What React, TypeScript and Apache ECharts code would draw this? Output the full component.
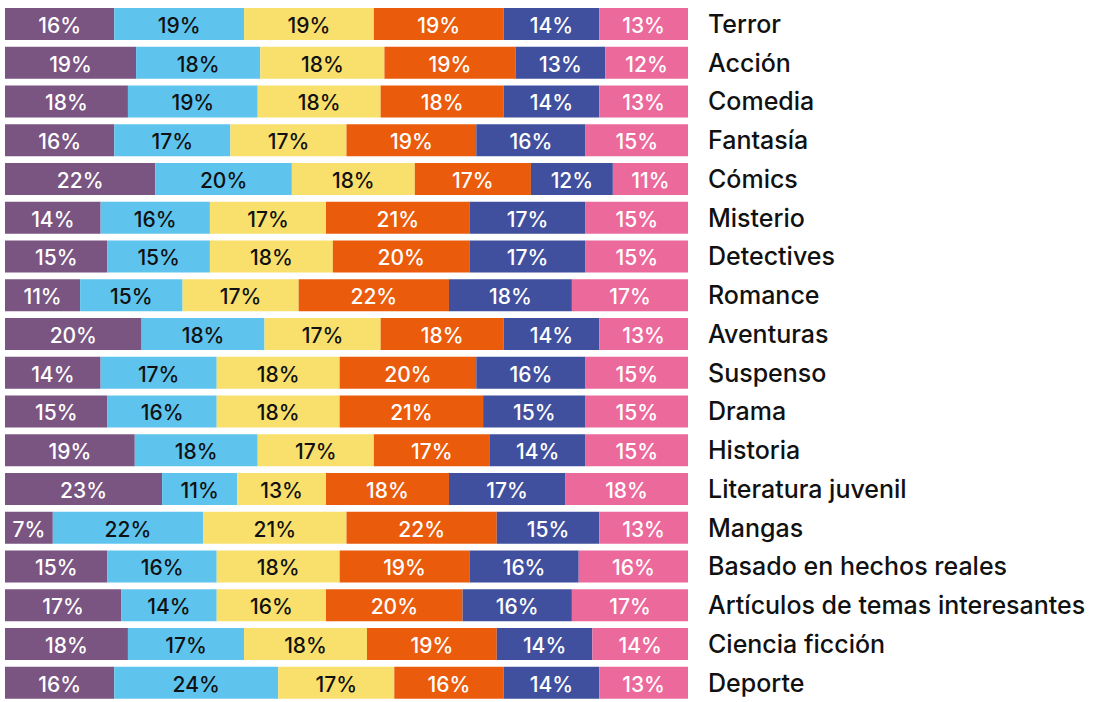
import React, { useEffect, useRef } from "react";
import * as echarts from "echarts";

const categories = [
  "Terror",
  "Acción",
  "Comedia",
  "Fantasía",
  "Cómics",
  "Misterio",
  "Detectives",
  "Romance",
  "Aventuras",
  "Suspenso",
  "Drama",
  "Historia",
  "Literatura juvenil",
  "Mangas",
  "Basado en hechos reales",
  "Artículos de temas interesantes",
  "Ciencia ficción",
  "Deporte",
];

const serie1 = [16, 19, 18, 16, 22, 14, 15, 11, 20, 14, 15, 19, 23, 7, 15, 17, 18, 16];
const serie2 = [19, 18, 19, 17, 20, 16, 15, 15, 18, 17, 16, 18, 11, 22, 16, 14, 17, 24];
const serie3 = [19, 18, 18, 17, 18, 17, 18, 17, 17, 18, 18, 17, 13, 21, 18, 16, 18, 17];
const serie4 = [19, 19, 18, 19, 17, 21, 20, 22, 18, 20, 21, 17, 18, 22, 19, 20, 19, 16];
const serie5 = [14, 13, 14, 16, 12, 17, 17, 18, 14, 16, 15, 14, 17, 15, 16, 16, 14, 14];
const serie6 = [13, 12, 13, 15, 11, 15, 15, 17, 13, 15, 15, 15, 18, 13, 16, 17, 14, 13];

const allSeries = [serie1, serie2, serie3, serie4, serie5, serie6];
const seriesNames = ["Serie 1", "Serie 2", "Serie 3", "Serie 4", "Serie 5", "Serie 6"];
const colors = ["#7A5582", "#5EC4EE", "#F9E06C", "#EA5B0C", "#41509E", "#EC6A9B"];
const labelColors = ["#ffffff", "#111111", "#111111", "#ffffff", "#ffffff", "#ffffff"];

const FONT = "Inter, 'Noto Sans', sans-serif";

export default function App() {
  const ref = useRef<HTMLDivElement>(null);
  useEffect(() => {
    if (!ref.current) return;
    const chart = echarts.init(ref.current, undefined, { renderer: "svg" });
    const totals = categories.map((_, i) =>
      allSeries.reduce((s, arr) => s + arr[i], 0)
    );
    chart.setOption({
      animation: false,
      grid: { left: 5, right: 408, top: 4.5, bottom: -4.5, containLabel: false },
      xAxis: { type: "value", min: 0, max: 100, show: false },
      yAxis: {
        type: "category",
        data: categories,
        inverse: true,
        position: "right",
        axisLine: { show: false },
        axisTick: { show: false },
        splitLine: { show: false },
        axisLabel: {
          color: "#111111",
          fontSize: 25,
          fontFamily: FONT,
          fontWeight: 500,
          margin: 20,
          align: "left",
          padding: [7, 0, 0, 0],
        },
      },
      series: allSeries.map((arr, si) => ({
        name: seriesNames[si],
        type: "bar",
        stack: "total",
        barWidth: 32,
        itemStyle: { color: colors[si] },
        label: {
          show: true,
          position: "inside",
          color: labelColors[si],
          fontSize: 21,
          fontFamily: FONT,
          fontWeight: 500,
          offset: [0, 1.5],
          formatter: (p: any) => `${arr[p.dataIndex]}%`,
        },
        data: arr.map((v, i) => (v / totals[i]) * 100),
      })),
    });
    return () => chart.dispose();
  }, []);
  return (
    <div
      ref={ref}
      style={{ position: "absolute", left: 0, top: 0, width: 1096, height: 702 }}
    />
  );
}
